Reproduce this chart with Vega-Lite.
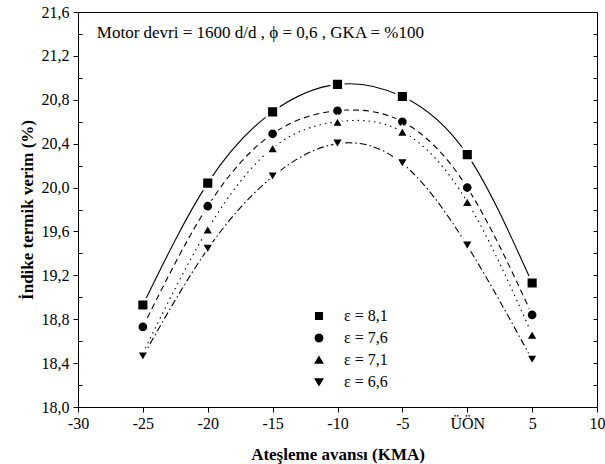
{
  "$schema": "https://vega.github.io/schema/vega-lite/v6.json",
  "width": 519,
  "height": 395,
  "autosize": {"type": "none"},
  "padding": {"left": 78, "top": 12, "right": 8, "bottom": 57},
  "background": "white",
  "config": {
    "font": "Liberation Serif",
    "view": {"stroke": "black", "strokeWidth": 1},
    "axis": {
      "labelFont": "Liberation Serif", "labelFontSize": 16, "labelColor": "black",
      "titleFont": "Liberation Serif", "titleFontSize": 17, "titleFontWeight": "bold", "titleColor": "black",
      "domainColor": "black", "tickColor": "black", "grid": false
    },
    "legend": {"labelFont": "Liberation Serif", "labelFontSize": 16, "labelColor": "black"}
  },
  "data": {"values": [
    {"x": -25, "y": 18.93, "eps": "ε = 8,1"},
    {"x": -20, "y": 20.04, "eps": "ε = 8,1"},
    {"x": -15, "y": 20.69, "eps": "ε = 8,1"},
    {"x": -10, "y": 20.94, "eps": "ε = 8,1"},
    {"x": -5, "y": 20.83, "eps": "ε = 8,1"},
    {"x": 0, "y": 20.30, "eps": "ε = 8,1"},
    {"x": 5, "y": 19.13, "eps": "ε = 8,1"},
    {"x": -25, "y": 18.73, "eps": "ε = 7,6"},
    {"x": -20, "y": 19.83, "eps": "ε = 7,6"},
    {"x": -15, "y": 20.49, "eps": "ε = 7,6"},
    {"x": -10, "y": 20.70, "eps": "ε = 7,6"},
    {"x": -5, "y": 20.60, "eps": "ε = 7,6"},
    {"x": 0, "y": 20.00, "eps": "ε = 7,6"},
    {"x": 5, "y": 18.84, "eps": "ε = 7,6"},
    {"x": -25, "y": 18.49, "eps": "ε = 7,1"},
    {"x": -20, "y": 19.62, "eps": "ε = 7,1"},
    {"x": -15, "y": 20.36, "eps": "ε = 7,1"},
    {"x": -10, "y": 20.60, "eps": "ε = 7,1"},
    {"x": -5, "y": 20.51, "eps": "ε = 7,1"},
    {"x": 0, "y": 19.87, "eps": "ε = 7,1"},
    {"x": 5, "y": 18.66, "eps": "ε = 7,1"},
    {"x": -25, "y": 18.46, "eps": "ε = 6,6"},
    {"x": -20, "y": 19.44, "eps": "ε = 6,6"},
    {"x": -15, "y": 20.10, "eps": "ε = 6,6"},
    {"x": -10, "y": 20.40, "eps": "ε = 6,6"},
    {"x": -5, "y": 20.22, "eps": "ε = 6,6"},
    {"x": 0, "y": 19.47, "eps": "ε = 6,6"},
    {"x": 5, "y": 18.43, "eps": "ε = 6,6"}
  ]},
  "resolve": {"scale": {"y": "independent"}, "axis": {"y": "independent"}},
  "layer": [
    {
      "transform": [{"filter": "datum.eps == 'ε = 8,1'"}],
      "mark": {"type": "line", "interpolate": "natural", "color": "black", "strokeWidth": 1.1},
      "encoding": {
        "x": {"field": "x", "type": "quantitative",
          "scale": {"domain": [-30, 10], "nice": false, "zero": false},
          "axis": {"orient": "bottom", "title": "Ateşleme avansı (KMA)", "values": [-30, -25, -20, -15, -10, -5, 0, 5, 10],
            "labelExpr": "datum.value == 0 ? 'ÜÖN' : '' + datum.value", "tickSize": 5, "labelPadding": 3, "titlePadding": 15, "domain": true, "labelFlush": false}},
        "y": {"field": "y", "type": "quantitative",
          "scale": {"domain": [18, 21.6], "nice": false, "zero": false},
          "axis": {"orient": "left", "title": "İndike termik verim (%)", "values": [18, 18.4, 18.8, 19.2, 19.6, 20, 20.4, 20.8, 21.2, 21.6],
            "format": ".1f", "labelExpr": "replace(datum.label, '.', ',')", "tickSize": 5, "labelPadding": 4, "titlePadding": 5, "labelFlush": false}}
      }
    },
    {
      "transform": [{"filter": "datum.eps == 'ε = 7,6'"}],
      "mark": {"type": "line", "interpolate": "natural", "color": "black", "strokeWidth": 1.1, "strokeDash": [6, 4]},
      "encoding": {
        "x": {"field": "x", "type": "quantitative"},
        "y": {"field": "y", "type": "quantitative", "scale": {"domain": [18, 21.6], "nice": false, "zero": false}, "axis": null}
      }
    },
    {
      "transform": [{"filter": "datum.eps == 'ε = 7,1'"}],
      "mark": {"type": "line", "interpolate": "natural", "color": "black", "strokeWidth": 1.1, "strokeDash": [1.5, 4]},
      "encoding": {
        "x": {"field": "x", "type": "quantitative"},
        "y": {"field": "y", "type": "quantitative", "scale": {"domain": [18, 21.6], "nice": false, "zero": false}, "axis": null}
      }
    },
    {
      "transform": [{"filter": "datum.eps == 'ε = 6,6'"}],
      "mark": {"type": "line", "interpolate": "natural", "color": "black", "strokeWidth": 1.1, "strokeDash": [7, 3, 1.5, 3]},
      "encoding": {
        "x": {"field": "x", "type": "quantitative"},
        "y": {"field": "y", "type": "quantitative", "scale": {"domain": [18, 21.6], "nice": false, "zero": false}, "axis": null}
      }
    },
    {
      "transform": [{"filter": "datum.eps == 'ε = 8,1'"}],
      "mark": {"type": "point", "shape": "square", "filled": true, "fill": "black", "stroke": "white", "strokeWidth": 2.5, "size": 135, "opacity": 1},
      "encoding": {
        "x": {"field": "x", "type": "quantitative"},
        "y": {"field": "y", "type": "quantitative", "scale": {"domain": [18, 21.6], "nice": false, "zero": false},
          "axis": {"orient": "left", "title": null, "labels": false, "domain": false, "offset": -4,
            "values": [18.2, 18.6, 19.0, 19.4, 19.8, 20.2, 20.6, 21.0, 21.4], "tickSize": 4}}
      }
    },
    {
      "transform": [{"filter": "datum.eps == 'ε = 7,6'"}],
      "mark": {"type": "point", "shape": "circle", "filled": true, "fill": "black", "stroke": "white", "strokeWidth": 2.5, "size": 125, "opacity": 1},
      "encoding": {
        "x": {"field": "x", "type": "quantitative"},
        "y": {"field": "y", "type": "quantitative", "scale": {"domain": [18, 21.6], "nice": false, "zero": false}, "axis": null}
      }
    },
    {
      "transform": [{"filter": "datum.eps == 'ε = 7,1'"}],
      "mark": {"type": "point", "shape": "triangle-up", "filled": true, "fill": "black", "stroke": "white", "strokeWidth": 2.5, "size": 155, "opacity": 1},
      "encoding": {
        "x": {"field": "x", "type": "quantitative"},
        "y": {"field": "y", "type": "quantitative", "scale": {"domain": [18, 21.6], "nice": false, "zero": false}, "axis": null}
      }
    },
    {
      "transform": [{"filter": "datum.eps == 'ε = 6,6'"}],
      "mark": {"type": "point", "shape": "triangle-down", "filled": true, "fill": "black", "stroke": "white", "strokeWidth": 2.5, "size": 155, "opacity": 1},
      "encoding": {
        "x": {"field": "x", "type": "quantitative"},
        "y": {"field": "y", "type": "quantitative", "scale": {"domain": [18, 21.6], "nice": false, "zero": false}, "axis": null}
      }
    },
    {
      "mark": {"type": "point", "filled": false, "color": "black", "fill": "black", "stroke": "black", "strokeWidth": 1.2, "opacity": 0, "size": 324},
      "encoding": {
        "x": {"field": "x", "type": "quantitative"},
        "y": {"field": "y", "type": "quantitative", "scale": {"domain": [18, 21.6], "nice": false, "zero": false},
          "axis": {"orient": "right", "title": null, "labels": false, "domain": false, "offset": -4,
            "values": [18.2, 18.4, 18.6, 18.8, 19.0, 19.2, 19.4, 19.6, 19.8, 20.0, 20.2, 20.4, 20.6, 20.8, 21.0, 21.2, 21.4], "tickSize": 4}},
        "shape": {"field": "eps", "type": "nominal",
          "scale": {"domain": ["ε = 8,1", "ε = 7,6", "ε = 7,1", "ε = 6,6"],
            "range": [
              "M-2,0H-0.5M0.5,0H2M-0.45,-0.45H0.45V0.45H-0.45Z",
              "M-2,0H-1.26M0.67,0H1.44M0.5,0L0.433,0.25L0.25,0.433L0,0.5L-0.25,0.433L-0.433,0.25L-0.5,0L-0.433,-0.25L-0.25,-0.433L0,-0.5L0.25,-0.433L0.433,-0.25Z",
              "M-2.1,0H-1.93M-1.48,0H-1.31M-0.81,0H-0.64M0.6,0H0.77M1.22,0H1.39M0,-0.5L0.55,0.42H-0.55Z",
              "M-2,0H-1.15M-0.86,0H-0.7M0.67,0H1.48M1.77,0H1.93M-0.55,-0.42H0.55L0,0.5Z"
            ]},
          "legend": {"title": null, "orient": "none", "legendX": 231, "legendY": 294, "labelOffset": 15, "rowPadding": 4, "padding": 0,
            "symbolSize": 324, "symbolOpacity": 1, "symbolStrokeColor": "black", "symbolStrokeWidth": 1.2, "symbolFillColor": "black",
            "encode": {"symbols": {"fill": {"value": "black"}, "stroke": {"value": "black"}, "strokeWidth": {"value": 1.2}, "opacity": {"value": 1}}}}
        }
      }
    },
    {
      "data": {"values": [{}]},
      "mark": {"type": "text", "align": "left", "baseline": "middle", "fontSize": 17, "font": "Liberation Serif", "color": "black"},
      "encoding": {
        "x": {"datum": -28.55, "type": "quantitative"},
        "y": {"datum": 21.41, "type": "quantitative", "scale": {"domain": [18, 21.6], "nice": false, "zero": false}, "axis": null},
        "text": {"value": "Motor devri = 1600 d/d ,  ϕ = 0,6 , GKA = %100"}
      }
    }
  ]
}
